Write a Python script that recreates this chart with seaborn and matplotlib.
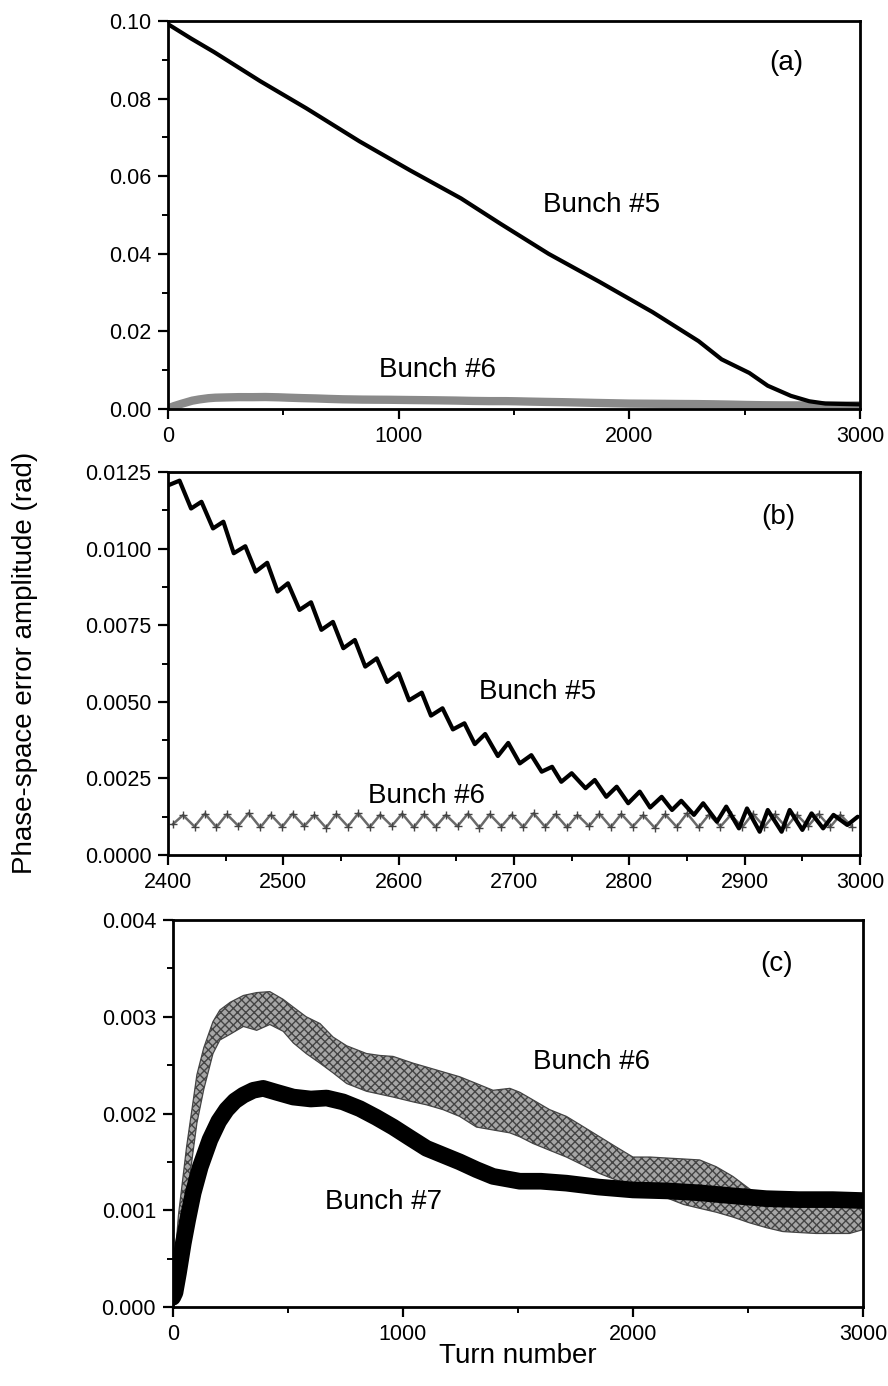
import matplotlib
matplotlib.use("Agg")
import matplotlib.pyplot as plt
from matplotlib.ticker import MultipleLocator, FormatStrFormatter
import seaborn as sns

# ---------------- data ----------------
# Panel (a): Bunch #5 decay over 3000 turns
a_b5_turn = [0, 100, 200, 400, 600, 830, 1050, 1270, 1440, 1650, 1870, 2100,
             2300, 2400, 2520, 2600, 2700, 2780, 2850, 2920, 3000]
a_b5_amp = [0.0992, 0.0955, 0.0920, 0.0845, 0.0775, 0.0690, 0.0615, 0.0543,
            0.0478, 0.0400, 0.0328, 0.0250, 0.0175, 0.0128, 0.0093, 0.0060,
            0.0034, 0.0020, 0.0014, 0.0013, 0.0012]

# Panel (b): Bunch #5 zig-zag, turns 2400-3000
b_b5_start_turn = [2401]
b_b5_start_amp = [0.01208]
b_b5_peak_turn = [2410, 2429, 2448, 2467, 2486, 2504, 2524, 2543, 2562, 2581,
                  2600, 2620, 2638, 2657, 2675, 2695, 2715, 2733, 2750, 2770,
                  2789, 2809, 2828, 2845, 2864, 2884, 2902, 2920, 2939, 2958,
                  2977, 2998]
b_b5_peak_amp = [0.01222, 0.01153, 0.01088, 0.01008, 0.00954, 0.00887, 0.00825,
                 0.00761, 0.00702, 0.00642, 0.00593, 0.00530, 0.00479, 0.00430,
                 0.00395, 0.00366, 0.00326, 0.00288, 0.00267, 0.00245, 0.00223,
                 0.00207, 0.00190, 0.00177, 0.00169, 0.00158, 0.00152, 0.00147,
                 0.00147, 0.00136, 0.00131, 0.00125]
b_b5_trough_turn = [2420, 2439, 2457, 2476, 2495, 2514, 2533, 2552, 2571, 2590,
                    2609, 2628, 2647, 2666, 2686, 2705, 2724, 2741, 2762, 2780,
                    2799, 2818, 2837, 2856, 2876, 2895, 2913, 2932, 2950, 2968,
                    2989]
b_b5_trough_amp = [0.01131, 0.01066, 0.00985, 0.00925, 0.00860, 0.00800, 0.00735,
                   0.00675, 0.00615, 0.00565, 0.00505, 0.00455, 0.00410, 0.00362,
                   0.00323, 0.00299, 0.00272, 0.00239, 0.00218, 0.00190, 0.00169,
                   0.00155, 0.00147, 0.00131, 0.00109, 0.00087, 0.00076, 0.00076,
                   0.00082, 0.00087, 0.00098]

# Panel (b): Bunch #6 zig-zag
b_b6_trough_turn = [2404, 2423, 2442, 2461, 2480, 2499, 2518, 2537, 2556, 2575,
                    2594, 2613, 2632, 2651, 2670, 2689, 2708, 2727, 2746, 2765,
                    2784, 2803, 2822, 2841, 2860, 2879, 2898, 2917, 2936, 2955,
                    2974, 2993]
b_b6_trough_amp = [0.00100, 0.00093, 0.00091, 0.00095, 0.00090, 0.00092, 0.00094,
                   0.00089, 0.00093, 0.00091, 0.00095, 0.00090, 0.00092, 0.00094,
                   0.00089, 0.00093, 0.00091, 0.00092, 0.00090, 0.00094, 0.00091,
                   0.00093, 0.00089, 0.00092, 0.00090, 0.00093, 0.00091, 0.00092,
                   0.00090, 0.00094, 0.00091, 0.00093]
b_b6_peak_turn = [2413, 2432, 2451, 2470, 2489, 2508, 2527, 2546, 2565, 2584,
                  2603, 2622, 2641, 2660, 2679, 2698, 2717, 2736, 2755, 2774,
                  2793, 2812, 2831, 2850, 2869, 2888, 2907, 2926, 2945, 2964,
                  2983]
b_b6_peak_amp = [0.00130, 0.00135, 0.00133, 0.00137, 0.00132, 0.00135, 0.00131,
                 0.00134, 0.00136, 0.00132, 0.00135, 0.00133, 0.00131, 0.00135,
                 0.00133, 0.00132, 0.00136, 0.00133, 0.00131, 0.00135, 0.00134,
                 0.00130, 0.00133, 0.00136, 0.00132, 0.00131, 0.00135, 0.00133,
                 0.00132, 0.00134, 0.00131]

# Panel (c) (also drawn small in (a)): Bunch #6 spread band
c_b6_turn = [0, 25, 60, 105, 135, 175, 205, 250, 307, 365, 422, 480, 524, 580,
             640, 697, 756, 842, 900, 958, 1045, 1103, 1175, 1247, 1320, 1392,
             1465, 1508, 1566, 1638, 1711, 1780, 1855, 1930, 2000, 2075, 2145,
             2220, 2290, 2362, 2434, 2507, 2580, 2651, 2720, 2796, 2870, 2941, 3000]
c_b6_low = [0.00005, 0.00050, 0.00110, 0.00190, 0.00225, 0.00262, 0.00276,
            0.00282, 0.00290, 0.00286, 0.00292, 0.00285, 0.00273, 0.00262,
            0.00252, 0.00242, 0.00231, 0.00223, 0.00220, 0.00217, 0.00212,
            0.00209, 0.00204, 0.00197, 0.00186, 0.00183, 0.00180, 0.00176,
            0.00169, 0.00162, 0.00155, 0.00147, 0.00138, 0.00131, 0.00124,
            0.00118, 0.00113, 0.00106, 0.00102, 0.00098, 0.00093, 0.00087,
            0.00082, 0.00078, 0.00077, 0.00076, 0.00076, 0.00076, 0.00080]
c_b6_high = [0.00020, 0.00095, 0.00165, 0.00240, 0.00268, 0.00295, 0.00307,
             0.00315, 0.00322, 0.00325, 0.00326, 0.00318, 0.00310, 0.00300,
             0.00293, 0.00279, 0.00270, 0.00262, 0.00260, 0.00259, 0.00252,
             0.00248, 0.00243, 0.00238, 0.00231, 0.00224, 0.00226, 0.00222,
             0.00214, 0.00204, 0.00197, 0.00187, 0.00176, 0.00165, 0.00155,
             0.00155, 0.00154, 0.00153, 0.00152, 0.00145, 0.00135, 0.00122,
             0.00113, 0.00110, 0.00108, 0.00107, 0.00107, 0.00106, 0.00106]

# Panel (c): Bunch #7
c_b7_turn = [0, 10, 25, 46, 65, 89, 120, 162, 200, 234, 270, 307, 350, 393, 450,
             524, 600, 669, 740, 813, 885, 958, 1030, 1103, 1175, 1247, 1320,
             1392, 1508, 1600, 1711, 1850, 2000, 2150, 2290, 2430, 2579, 2720,
             2868, 3000]
c_b7_amp = [0.00010, 0.00015, 0.00035, 0.00066, 0.00090, 0.00118, 0.00145,
            0.00173, 0.00192, 0.00204, 0.00213, 0.00219, 0.00224, 0.00226,
            0.00222, 0.00217, 0.00215, 0.00216, 0.00212, 0.00205, 0.00196,
            0.00186, 0.00175, 0.00164, 0.00157, 0.00150, 0.00142, 0.00135,
            0.00130, 0.00130, 0.00128, 0.00124, 0.00121, 0.00120, 0.00118,
            0.00115, 0.00112, 0.00111, 0.00111, 0.00110]

panel_tags = ["(a)", "(b)", "(c)"]
y_label = "Phase-space error amplitude (rad)"
x_label = "Turn number"

# ---------------- build series ----------------
b5_turn = list(b_b5_start_turn)
b5_amp = list(b_b5_start_amp)
for i in range(len(b_b5_peak_turn)):
    b5_turn.append(b_b5_peak_turn[i]); b5_amp.append(b_b5_peak_amp[i])
    if i < len(b_b5_trough_turn):
        b5_turn.append(b_b5_trough_turn[i]); b5_amp.append(b_b5_trough_amp[i])

b6_turn, b6_amp = [], []
for i in range(len(b_b6_trough_turn)):
    b6_turn.append(b_b6_trough_turn[i]); b6_amp.append(b_b6_trough_amp[i])
    if i < len(b_b6_peak_turn):
        b6_turn.append(b_b6_peak_turn[i]); b6_amp.append(b_b6_peak_amp[i])

c_b6_mid = [(lo + hi) / 2 for lo, hi in zip(c_b6_low, c_b6_high)]

# ---------------- style ----------------
sns.set_theme(style="ticks")
plt.rcParams['font.family'] = ['Liberation Sans', 'DejaVu Sans']
plt.rcParams['hatch.linewidth'] = 1.0
plt.rcParams['text.color'] = 'black'
plt.rcParams['axes.labelcolor'] = 'black'
plt.rcParams['xtick.color'] = 'black'
plt.rcParams['ytick.color'] = 'black'

fig = plt.figure(figsize=(8.88, 13.86), dpi=100)
fig.patch.set_facecolor("white")
ax_a = fig.add_axes([0.1892, 0.7049, 0.7793, 0.2799])
ax_b = fig.add_axes([0.1892, 0.3831, 0.7793, 0.2763])
ax_c = fig.add_axes([0.1945, 0.0570, 0.7774, 0.2792])


def style(ax, xlim, ylim, xmaj, xmin, ymaj, ymin, yfmt):
    ax.set_xlim(*xlim)
    ax.set_ylim(*ylim)
    ax.xaxis.set_major_locator(MultipleLocator(xmaj))
    ax.xaxis.set_minor_locator(MultipleLocator(xmin))
    ax.yaxis.set_major_locator(MultipleLocator(ymaj))
    ax.yaxis.set_minor_locator(MultipleLocator(ymin))
    ax.yaxis.set_major_formatter(FormatStrFormatter(yfmt))
    ax.xaxis.set_major_formatter(FormatStrFormatter("%d"))
    for s in ax.spines.values():
        s.set_visible(True)
        s.set_linewidth(2.0)
        s.set_color("black")
    ax.tick_params(which="major", direction="out", length=7, width=1.6,
                   pad=5, labelsize=15.5, colors="black", labelcolor="black")
    ax.tick_params(which="minor", direction="out", length=4.5, width=1.4,
                   colors="black")
    ax.tick_params(which="both", top=False, right=False)
    ax.set_xlabel("")
    ax.set_ylabel("")
    ax.set_facecolor("white")
    ax.grid(False)


label_fs = 20
tc = "black"

# ---- panel (a)
sns.lineplot(x=c_b6_turn, y=c_b6_mid, ax=ax_a, color="#8a8a8a", linewidth=6,
             estimator=None, sort=False, legend=False, errorbar=None)
sns.lineplot(x=a_b5_turn, y=a_b5_amp, ax=ax_a, color="black", linewidth=3,
             estimator=None, sort=False, legend=False, errorbar=None)
style(ax_a, (0, 3000), (0, 0.10), 1000, 500, 0.02, 0.01, "%.2f")
ax_a.text(2681, 0.0891, panel_tags[0], fontsize=label_fs, ha="center", va="center", color=tc)
ax_a.text(1880, 0.0526, "Bunch #5", fontsize=label_fs, ha="center", va="center", color=tc)
ax_a.text(1170, 0.0100, "Bunch #6", fontsize=label_fs, ha="center", va="center", color=tc)

# ---- panel (b)
sns.lineplot(x=b6_turn, y=b6_amp, ax=ax_b, color="#6a6a6a", linewidth=1.8,
             marker="+", markersize=6, markeredgewidth=1.0, markeredgecolor="#444444",
             estimator=None, sort=False, legend=False, errorbar=None)
sns.lineplot(x=b5_turn, y=b5_amp, ax=ax_b, color="black", linewidth=3,
             estimator=None, sort=False, legend=False, errorbar=None)
style(ax_b, (2400, 3000), (0, 0.0125), 100, 50, 0.0025, 0.00125, "%.4f")
ax_b.text(2929, 0.01104, panel_tags[1], fontsize=label_fs, ha="center", va="center", color=tc)
ax_b.text(2720, 0.00533, "Bunch #5", fontsize=label_fs, ha="center", va="center", color=tc)
ax_b.text(2624, 0.00193, "Bunch #6", fontsize=label_fs, ha="center", va="center", color=tc)

# ---- panel (c)
ax_c.fill_between(c_b6_turn, c_b6_low, c_b6_high, facecolor="#a6a6a6",
                  edgecolor="#444444", hatch="xxxx", linewidth=0.9, zorder=2)
sns.lineplot(x=c_b7_turn, y=c_b7_amp, ax=ax_c, color="black", linewidth=12,
             estimator=None, sort=False, legend=False, errorbar=None, zorder=3)
style(ax_c, (0, 3000), (0, 0.004), 1000, 500, 0.001, 0.0005, "%.3f")
ax_c.text(2623, 0.00355, panel_tags[2], fontsize=label_fs, ha="center", va="center", color=tc)
ax_c.text(1819, 0.002535, "Bunch #6", fontsize=label_fs, ha="center", va="center", color=tc)
ax_c.text(914, 0.001088, "Bunch #7", fontsize=label_fs, ha="center", va="center", color=tc)

fig.text(0.028, 0.522, y_label, rotation=90, fontsize=20, ha="center", va="center", color=tc)
fig.text(0.583, 0.0216, x_label, fontsize=20, ha="center", va="center", color=tc)

fig.savefig("out.png", dpi=100, facecolor="white")
